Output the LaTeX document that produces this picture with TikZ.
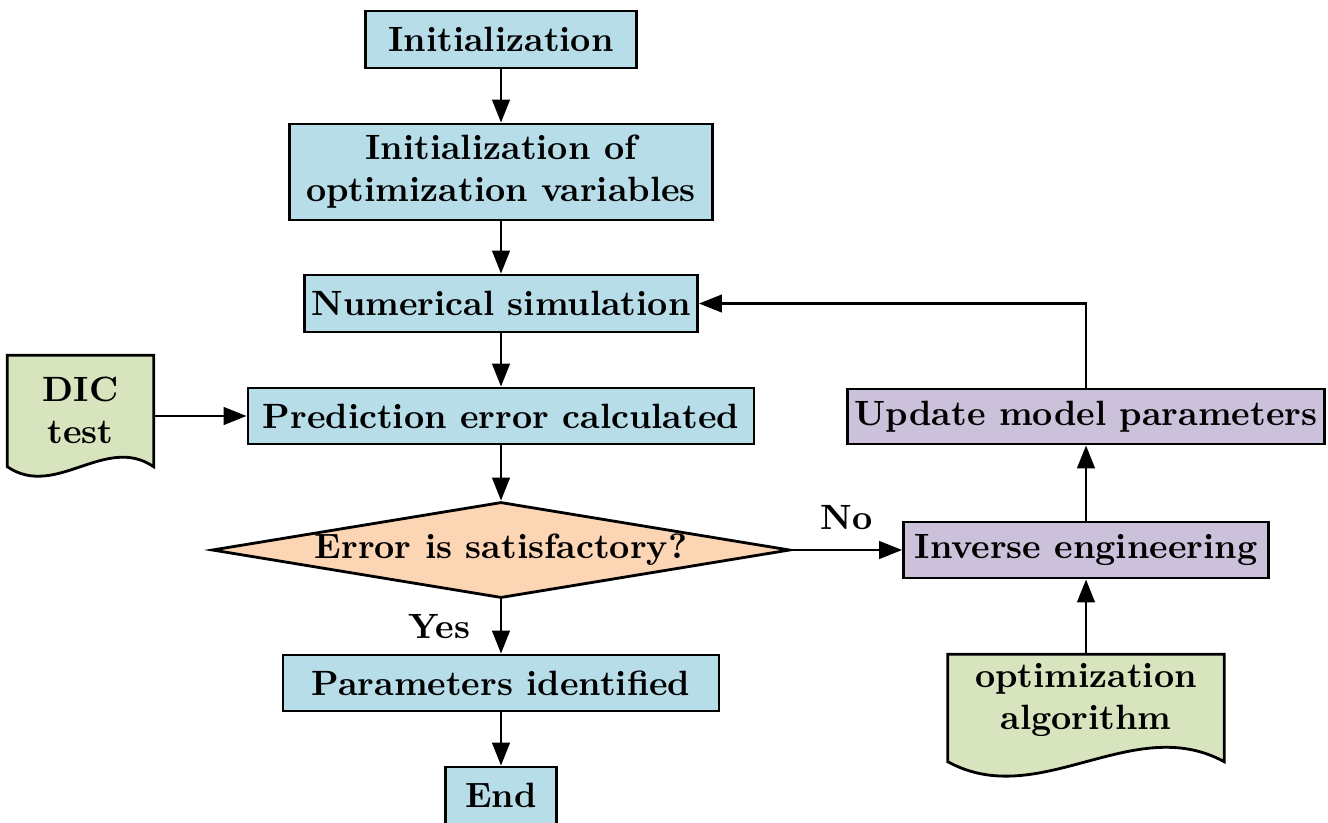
\documentclass[tikz,border=0pt]{standalone}
\usepackage{tikz}
\usetikzlibrary{
  arrows.meta,
  calc,
  shapes.geometric,
  backgrounds
}
\definecolor{procblue}{HTML}{B7DDE8}
\definecolor{docgreen}{HTML}{D7E4BD}
\definecolor{askorange}{HTML}{FCD5B5}
\definecolor{optpurple}{HTML}{CCC1DA}

% document shape: straight top and sides, wavy bottom
\newcommand{\docwave}[3]{%
  \begin{scope}[on background layer]
  \draw[line width=0.8pt, fill=docgreen]
    (#1.north west) -- (#1.north east) -- ($(#1.south east)+(0,-#2)$)
    .. controls ($(#1.south west)!0.67!(#1.south east)+(0,-#2+#3)$)
       and ($(#1.south west)!0.33!(#1.south east)+(0,-#2-#3)$) ..
    ($(#1.south west)+(0,-#2)$) -- cycle;
  \end{scope}}

\begin{document}
\begin{tikzpicture}[
  font=\bfseries,
  procbox/.style={draw, line width=0.8pt, fill=procblue, align=center,
    minimum height=0.57cm, inner sep=2pt},
  optbox/.style={procbox, fill=optpurple},
  askbox/.style={draw, line width=0.8pt, fill=askorange, diamond, aspect=6,
    inner sep=0pt, minimum width=5.78cm, minimum height=0.96cm},
  docbox/.style={align=center, inner sep=0pt},
  flow/.style={-{Triangle[length=2.3mm, width=1.75mm]}, line width=0.8pt}
]
\useasboundingbox (0,0) rectangle (13.28,-8.22);

% main column
\node[procbox, minimum width=2.71cm] (init) at (5.01,-0.395) {Initialization};
\node[procbox, minimum width=4.23cm, minimum height=0.96cm] (initvar) at (5.01,-1.72)
  {Initialization of\\optimization variables};
\node[procbox, minimum width=3.92cm] (numsim) at (5.01,-3.035) {Numerical simulation};
\node[procbox, minimum width=5.06cm, minimum height=0.56cm] (pred) at (5.01,-4.16)
  {Prediction error calculated};
\node[askbox] (check) at (5.01,-5.50) {Error is satisfactory?};
\node[procbox, minimum width=4.36cm, minimum height=0.56cm] (ident) at (5.01,-6.83)
  {Parameters identified};
\node[procbox, minimum width=1.11cm] (endn) at (5.01,-7.955) {End};

% DIC input
\node[docbox, minimum width=1.45cm, minimum height=1.08cm] (dic) at (0.805,-4.10)
  {DIC\\test};
\docwave{dic}{0.02}{0.33}

% right column
\node[optbox, minimum width=4.72cm, minimum height=0.55cm] (update) at (10.86,-4.165)
  {Update model parameters};
\node[optbox, minimum width=3.65cm, minimum height=0.56cm] (inverse) at (10.86,-5.50)
  {Inverse engineering};
\node[docbox, minimum width=2.75cm, minimum height=0.90cm] (opt) at (10.86,-7.00)
  {optimization\\algorithm};
\docwave{opt}{0.16}{0.50}

% connectors
\draw[flow] (init) -- (initvar);
\draw[flow] (initvar) -- (numsim);
\draw[flow] (numsim) -- (pred);
\draw[flow] (pred) -- (check);
\draw[flow] (check) -- node[left=5pt] {Yes} (ident);
\draw[flow] (ident) -- (endn);
\draw[flow] (dic.east |- pred.west) -- (pred.west);
\draw[flow] (check) -- node[above=2pt] {No} (inverse);
\draw[flow] (opt) -- (inverse);
\draw[flow] (inverse) -- (update);
\draw[flow] (update.north) |- (numsim.east);
\end{tikzpicture}
\end{document}
